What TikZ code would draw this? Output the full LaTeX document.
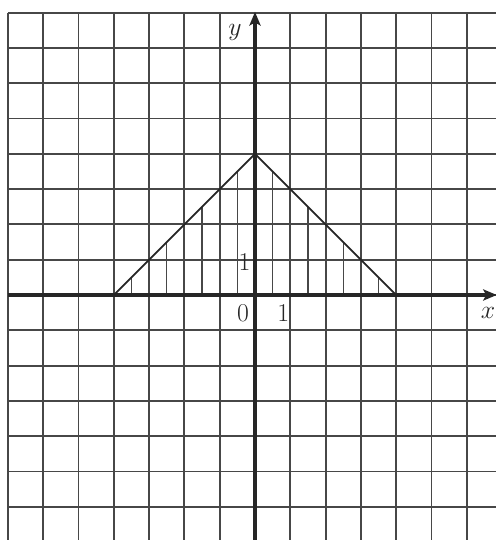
\documentclass[tikz,border=0pt]{standalone}
\usetikzlibrary{arrows.meta}
\begin{document}
\begin{tikzpicture}[x=1cm,y=1cm,
  gridline/.style={black!72, line width=1.5pt},
  axisline/.style={black!85, line width=3pt, -{Stealth[length=11pt,width=9pt,inset=2.5pt]}},
  edgeline/.style={black!85, line width=1.4pt},
  hatchline/.style={black!72, line width=1pt},
  lab/.style={font=\fontsize{22}{24}\selectfont, inner sep=0pt, text=black!85}]
\useasboundingbox (-7.224,-6.941) rectangle (6.827,8.357);
\foreach \i in {-7,...,6} \draw[gridline] (\i,-6.95) -- (\i,8);
\foreach \j in {-6,...,8} \draw[gridline] (-7,\j) -- (6.83,\j);
\foreach \h in {-3.5,-2.5,...,3.5} \draw[hatchline] (\h,0) -- (\h,{4-abs(\h)});
\coordinate (L) at (-4,0);
\coordinate (A) at (0,4);
\coordinate (R) at (4,0);
\draw[edgeline] (L) -- (A) -- (R);
\coordinate (xs) at (-7,0);
\coordinate (xe) at (6.85,0);
\coordinate (ys) at (0,-6.95);
\coordinate (ye) at (0,8.02);
\draw[axisline] (xs) -- (xe);
\draw[axisline] (ys) -- (ye);
\node[lab] (ylab) at (-0.57,7.45) {$y$};
\node[lab] (xlab) at (6.6,-0.5) {$x$};
\node[lab] (olab) at (-0.34,-0.52) {$0$};
\node[lab] (onex) at (0.8,-0.52) {$1$};
\node[lab] (oney) at (-0.3,0.93) {$1$};
\end{tikzpicture}
\end{document}
